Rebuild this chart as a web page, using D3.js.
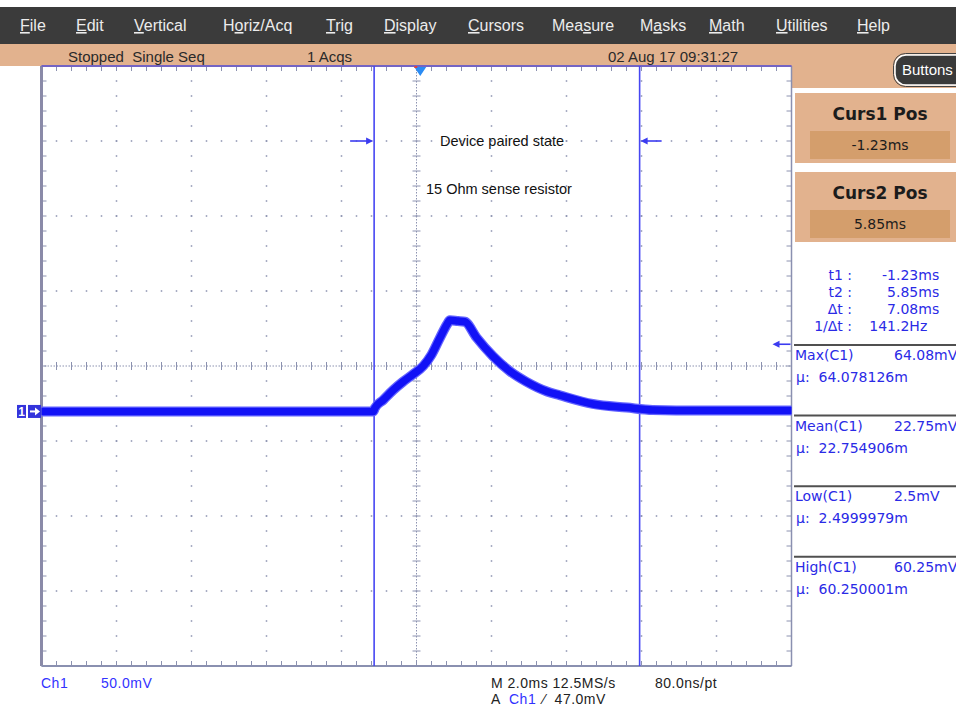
<!DOCTYPE html>
<html>
<head>
<meta charset="utf-8">
<script src="https://cdn.jsdelivr.net/npm/d3@7"></script>
<style>
  body { margin: 0; background: #fff; }
  svg { display: block; }
</style>
</head>
<body>
<div id="scope"></div>
<script>
// ---- data ----
const menuItems = ['File', 'Edit', 'Vertical', 'Horiz/Acq', 'Trig', 'Display', 'Cursors', 'Measure', 'Masks', 'Math', 'Utilities', 'Help'];
const menuKeys = [0, 0, 0, 1, 0, 0, 0, 3, 1, 0, 0, 0];   // index of underlined letter

const statusTexts = ['Stopped  Single Seq', '1 Acqs', '02 Aug 17 09:31:27'];

// trace of Ch1: time in ms, voltage in mV
const traceT = [-10.1, -1.25, -1.21, -0.99, -0.72, -0.46, -0.19, 0.08, 0.30, 0.52, 0.72, 0.79, 1.00, 1.19, 1.50, 1.94, 2.39, 2.83, 3.38, 3.72, 4.60, 5.51, 6.20, 7.45, 9.9];
const traceV = [2.2, 2.2, 4.5, 9.8, 16.5, 22, 27, 32.5, 40, 51, 60.5, 63, 62.5, 62, 51.5, 39, 29, 22, 15.5, 13, 7.2, 4.8, 3.2, 2.8, 2.8];

const cursorNames = ['Curs1 Pos', 'Curs2 Pos'];
const cursorTimes = [-1.23, 5.85];            // ms
const cursorValues = ['-1.23ms', '5.85ms'];
const triggerLevel = 47;                      // mV

const readoutLabels = ['t1 :', 't2 :', '\u0394t :', '1/\u0394t :'];
const readoutValues = ['-1.23ms', '5.85ms', '7.08ms', '141.2Hz'];

const measNames = ['Max(C1)', 'Mean(C1)', 'Low(C1)', 'High(C1)'];
const measValues = ['64.08mV', '22.75mV', '2.5mV', '60.25mV'];
const measMeans = ['64.078126m', '22.754906m', '2.4999979m', '60.250001m'];

const notes = ['Device paired state', '15 Ohm sense resistor'];

// ---- layout ----
const W = 956, H = 707;
const plot = { left: 41.5, right: 791.5, top: 66, bottom: 666 };
const tan = '#e2b28e', tanDark = '#d49e6c';
const blue = '#2a2ae6', trace = '#1212f6', gridCol = '#8c92b0';
const menuX = [20, 76, 134, 223, 326, 384, 468, 552, 640, 709, 776, 857];

const svg = d3.select('#scope').append('svg')
  .attr('width', W).attr('height', H)
  .style('font-family', '"Liberation Sans", Arial, sans-serif');

// scales: 10 x 8 divisions, 2 ms/div, 50 mV/div
const xDiv = d3.scaleLinear().domain([-5, 5]).range([plot.left, plot.right]);
const yDiv = d3.scaleLinear().domain([-4, 4]).range([plot.bottom, plot.top]);
const x = d3.scaleLinear().domain([-10.1, 9.9]).range([plot.left, plot.right]);
const y = d3.scaleLinear().domain([-167.5, 232.5]).range([plot.bottom, plot.top]);

// ---- menu bar ----
svg.append('rect').attr('x', 0).attr('y', 7).attr('width', W).attr('height', 37).attr('fill', '#3b3b3b');
menuItems.forEach((m, i) => {
  const t = svg.append('text')
    .attr('x', menuX[i]).attr('y', 31)
    .attr('font-size', 16).attr('fill', '#ececec');
  const k = menuKeys[i];
  if (k > 0) t.append('tspan').text(m.slice(0, k));
  t.append('tspan').attr('text-decoration', 'underline').text(m[k]);
  t.append('tspan').text(m.slice(k + 1));
});

// ---- status bar ----
svg.append('rect').attr('x', 0).attr('y', 44).attr('width', W).attr('height', 22).attr('fill', tan);
svg.append('rect').attr('x', plot.right).attr('y', 66).attr('width', W - plot.right).attr('height', 22).attr('fill', tan);
[68, 307, 608].forEach((sx, i) => {
  svg.append('text').attr('x', sx).attr('y', 62)
    .attr('font-size', 15).attr('fill', '#2a2a2a').attr('xml:space', 'preserve')
    .text(statusTexts[i]);
});

// Buttons pill
svg.append('rect').attr('x', 895).attr('y', 55).attr('width', 75).attr('height', 30).attr('rx', 11)
  .attr('fill', '#3a3a3a').attr('stroke', '#fff').attr('stroke-width', 1.5);
svg.append('rect').attr('x', 893.5).attr('y', 53.5).attr('width', 78).attr('height', 33).attr('rx', 12)
  .attr('fill', 'none').attr('stroke', '#444').attr('stroke-width', 1);
svg.append('text').attr('x', 902).attr('y', 75).attr('font-size', 15).attr('fill', '#fff').text('Buttons');

// ---- right panel ----
svg.append('rect').attr('x', plot.right + 1).attr('y', 88).attr('width', W - plot.right).attr('height', H - 88).attr('fill', '#fff');
cursorNames.forEach((c, i) => {
  const top = 93 + i * 79;
  svg.append('rect').attr('x', 795).attr('y', top).attr('width', W - 795).attr('height', 70).attr('fill', tan);
  svg.append('rect').attr('x', 810).attr('y', top + 38).attr('width', 140).attr('height', 28).attr('fill', tanDark);
  svg.append('text').attr('x', 880).attr('y', top + 27).attr('text-anchor', 'middle')
    .attr('font-family', '"DejaVu Sans", sans-serif').attr('font-weight', 'bold')
    .attr('font-size', 17).attr('fill', '#1c1c1c').text(c);
  svg.append('text').attr('x', 880).attr('y', top + 57).attr('text-anchor', 'middle')
    .attr('font-family', '"DejaVu Sans", sans-serif')
    .attr('font-size', 14).attr('fill', '#1c1c1c').text(cursorValues[i]);
});

const panelFont = '"DejaVu Sans", sans-serif';
readoutLabels.forEach((l, i) => {
  const by = 280 + i * 17;
  svg.append('text').attr('x', 852).attr('y', by).attr('text-anchor', 'end')
    .attr('font-family', panelFont).attr('font-size', 14).attr('fill', blue).text(l);
  const v = readoutValues[i], dot = v.indexOf('.');
  svg.append('text').attr('x', 896).attr('y', by).attr('text-anchor', 'end')
    .attr('font-family', panelFont).attr('font-size', 14).attr('fill', blue).text(v.slice(0, dot));
  svg.append('text').attr('x', 896).attr('y', by)
    .attr('font-family', panelFont).attr('font-size', 14).attr('fill', blue).text(v.slice(dot));
});

measNames.forEach((m, i) => {
  const sep = 345 + i * 70.6;
  svg.append('line').attr('x1', 794).attr('x2', W).attr('y1', sep).attr('y2', sep)
    .attr('stroke', '#505050').attr('stroke-width', 2);
  svg.append('text').attr('x', 795).attr('y', sep + 15)
    .attr('font-family', panelFont).attr('font-size', 14).attr('fill', blue).text(m);
  svg.append('text').attr('x', 894).attr('y', sep + 15)
    .attr('font-family', panelFont).attr('font-size', 14).attr('fill', blue).text(measValues[i]);
  svg.append('text').attr('x', 796).attr('y', sep + 37).attr('xml:space', 'preserve')
    .attr('font-family', panelFont).attr('font-size', 14).attr('fill', blue).text('\u00b5:  ' + measMeans[i]);
});

// ---- graticule ----
const g = svg.append('g');
const minor = d3.range(-25, 26).map(d => d / 5);
const minorY = d3.range(-20, 21).map(d => d / 5);

// dotted major lines
d3.range(-4, 5).filter(k => k !== 0).forEach(k => {
  g.selectAll(null).data(minorY.slice(1, -1)).join('rect')
    .attr('x', xDiv(k) - 0.75).attr('y', d => yDiv(d) - 0.75)
    .attr('width', 1.5).attr('height', 1.5).attr('fill', gridCol);
});
d3.range(-3, 4).filter(k => k !== 0).forEach(k => {
  g.selectAll(null).data(minor.slice(1, -1)).join('rect')
    .attr('x', d => xDiv(d) - 0.75).attr('y', yDiv(k) - 0.75)
    .attr('width', 1.5).attr('height', 1.5).attr('fill', gridCol);
});

// center cross
g.append('line').attr('x1', plot.left).attr('x2', plot.right).attr('y1', yDiv(0)).attr('y2', yDiv(0))
  .attr('stroke', gridCol).attr('stroke-dasharray', '1.5,1.5');
g.append('line').attr('x1', xDiv(0)).attr('x2', xDiv(0)).attr('y1', plot.top).attr('y2', plot.bottom)
  .attr('stroke', gridCol).attr('stroke-dasharray', '1.5,1.5');
g.selectAll(null).data(minor).join('line')
  .attr('x1', d => xDiv(d)).attr('x2', d => xDiv(d))
  .attr('y1', yDiv(0) - 4).attr('y2', yDiv(0) + 4)
  .attr('stroke', gridCol).attr('stroke-width', 1);
g.selectAll(null).data(minorY).join('line')
  .attr('x1', xDiv(0) - 4).attr('x2', xDiv(0) + 4)
  .attr('y1', d => yDiv(d)).attr('y2', d => yDiv(d))
  .attr('stroke', gridCol).attr('stroke-width', 1);

// edge ticks
g.selectAll(null).data(minor).join('line')
  .attr('x1', d => xDiv(d)).attr('x2', d => xDiv(d))
  .attr('y1', plot.top).attr('y2', plot.top + 5).attr('stroke', gridCol);
g.selectAll(null).data(minor).join('line')
  .attr('x1', d => xDiv(d)).attr('x2', d => xDiv(d))
  .attr('y1', plot.bottom).attr('y2', plot.bottom - 5).attr('stroke', gridCol);
g.selectAll(null).data(minorY).join('line')
  .attr('x1', plot.left).attr('x2', plot.left + 5)
  .attr('y1', d => yDiv(d)).attr('y2', d => yDiv(d)).attr('stroke', gridCol);
g.selectAll(null).data(minorY).join('line')
  .attr('x1', plot.right).attr('x2', plot.right - 5)
  .attr('y1', d => yDiv(d)).attr('y2', d => yDiv(d)).attr('stroke', gridCol);

// frame
g.append('line').attr('x1', plot.left).attr('x2', plot.left).attr('y1', plot.top).attr('y2', plot.bottom)
  .attr('stroke', '#8a8aa8').attr('stroke-width', 3);
g.append('line').attr('x1', plot.right).attr('x2', plot.right).attr('y1', plot.top).attr('y2', plot.bottom)
  .attr('stroke', '#8a90b0').attr('stroke-width', 1.5);
g.append('line').attr('x1', plot.left).attr('x2', plot.right).attr('y1', plot.bottom).attr('y2', plot.bottom)
  .attr('stroke', '#8a90b0').attr('stroke-width', 2);
g.append('line').attr('x1', plot.left).attr('x2', plot.right).attr('y1', plot.top).attr('y2', plot.top)
  .attr('stroke', '#7464c4').attr('stroke-width', 2);

// ---- notes ----
svg.append('text').attr('x', 440).attr('y', 146).attr('font-size', 14.5).attr('fill', '#111').text(notes[0]);
svg.append('text').attr('x', 426).attr('y', 194).attr('font-size', 14.5).attr('fill', '#111').text(notes[1]);

// ---- cursors ----
cursorTimes.forEach(t => {
  svg.append('line').attr('x1', x(t)).attr('x2', x(t)).attr('y1', plot.top).attr('y2', plot.bottom)
    .attr('stroke', '#4646f2').attr('stroke-width', 1.6);
});
function arrow(x1, x2, yy, color) {
  const dir = Math.sign(x2 - x1);
  svg.append('line').attr('x1', x1).attr('x2', x2 - dir * 6).attr('y1', yy).attr('y2', yy)
    .attr('stroke', color).attr('stroke-width', 1.6);
  svg.append('path')
    .attr('d', `M${x2},${yy}L${x2 - dir * 7},${yy - 3.5}L${x2 - dir * 7},${yy + 3.5}Z`)
    .attr('fill', color);
}
arrow(x(cursorTimes[0]) - 24, x(cursorTimes[0]) - 1, yDiv(3), '#3c3cf0');
arrow(x(cursorTimes[1]) + 22, x(cursorTimes[1]) + 1, yDiv(3), '#3c3cf0');
arrow(plot.right - 1, plot.right - 19, y(triggerLevel), '#3c3cf0');

// trigger position marker
svg.append('path')
  .attr('d', `M${x(0) - 6},${plot.top + 1}L${x(0) + 6},${plot.top + 1}L${x(0)},${plot.top + 10}Z`)
  .attr('fill', '#2a8cf4');
svg.append('rect').attr('x', x(0) - 6).attr('y', plot.top).attr('width', 3).attr('height', 2).attr('fill', '#e04040');

// ---- trace ----
const pts = traceT.map((t, i) => [t, traceV[i]]);
const line = d3.line().x(d => x(d[0])).y(d => y(d[1])).curve(d3.curveMonotoneX);
svg.append('path').datum(pts).attr('d', line)
  .attr('fill', 'none').attr('stroke', '#6464ff').attr('stroke-width', 10)
  .attr('stroke-linejoin', 'miter').attr('stroke-miterlimit', 3);
svg.append('path').datum(pts).attr('d', line)
  .attr('fill', 'none').attr('stroke', trace).attr('stroke-width', 7.5)
  .attr('stroke-linejoin', 'miter').attr('stroke-miterlimit', 3);

// ground marker of channel 1
const gy = y(traceV[0]);
svg.append('rect').attr('x', 17).attr('y', gy - 6.5).attr('width', 9).attr('height', 13).attr('fill', '#3434dc');
svg.append('rect').attr('x', 28).attr('y', gy - 6.5).attr('width', 13).attr('height', 13).attr('fill', '#3434dc');
svg.append('text').attr('x', 21.5).attr('y', gy + 5).attr('text-anchor', 'middle')
  .attr('font-size', 12).attr('font-weight', 'bold').attr('fill', '#fff').text('1');
svg.append('line').attr('x1', 30).attr('x2', 36).attr('y1', gy).attr('y2', gy).attr('stroke', '#fff').attr('stroke-width', 2);
svg.append('path').attr('d', `M40,${gy}L35,${gy - 4}L35,${gy + 4}Z`).attr('fill', '#fff');

// ---- bottom readout ----
const bottom = svg.append('g').attr('font-size', 14).attr('letter-spacing', 0.5);
bottom.append('text').attr('x', 41).attr('y', 688).attr('fill', '#3232ff').text('Ch1');
bottom.append('text').attr('x', 101).attr('y', 688).attr('fill', '#3232ff').text('50.0mV');
bottom.append('text').attr('x', 491).attr('y', 688).attr('fill', '#222').text('M 2.0ms 12.5MS/s');
bottom.append('text').attr('x', 655).attr('y', 688).attr('fill', '#222').text('80.0ns/pt');
bottom.append('text').attr('x', 491).attr('y', 704).attr('fill', '#222').text('A');
bottom.append('text').attr('x', 509).attr('y', 704).attr('fill', '#3232ff').text('Ch1');
bottom.append('text').attr('x', 543).attr('y', 704).attr('fill', '#222').attr('xml:space', 'preserve').text('\u2044  47.0mV');
</script>
</body>
</html>
